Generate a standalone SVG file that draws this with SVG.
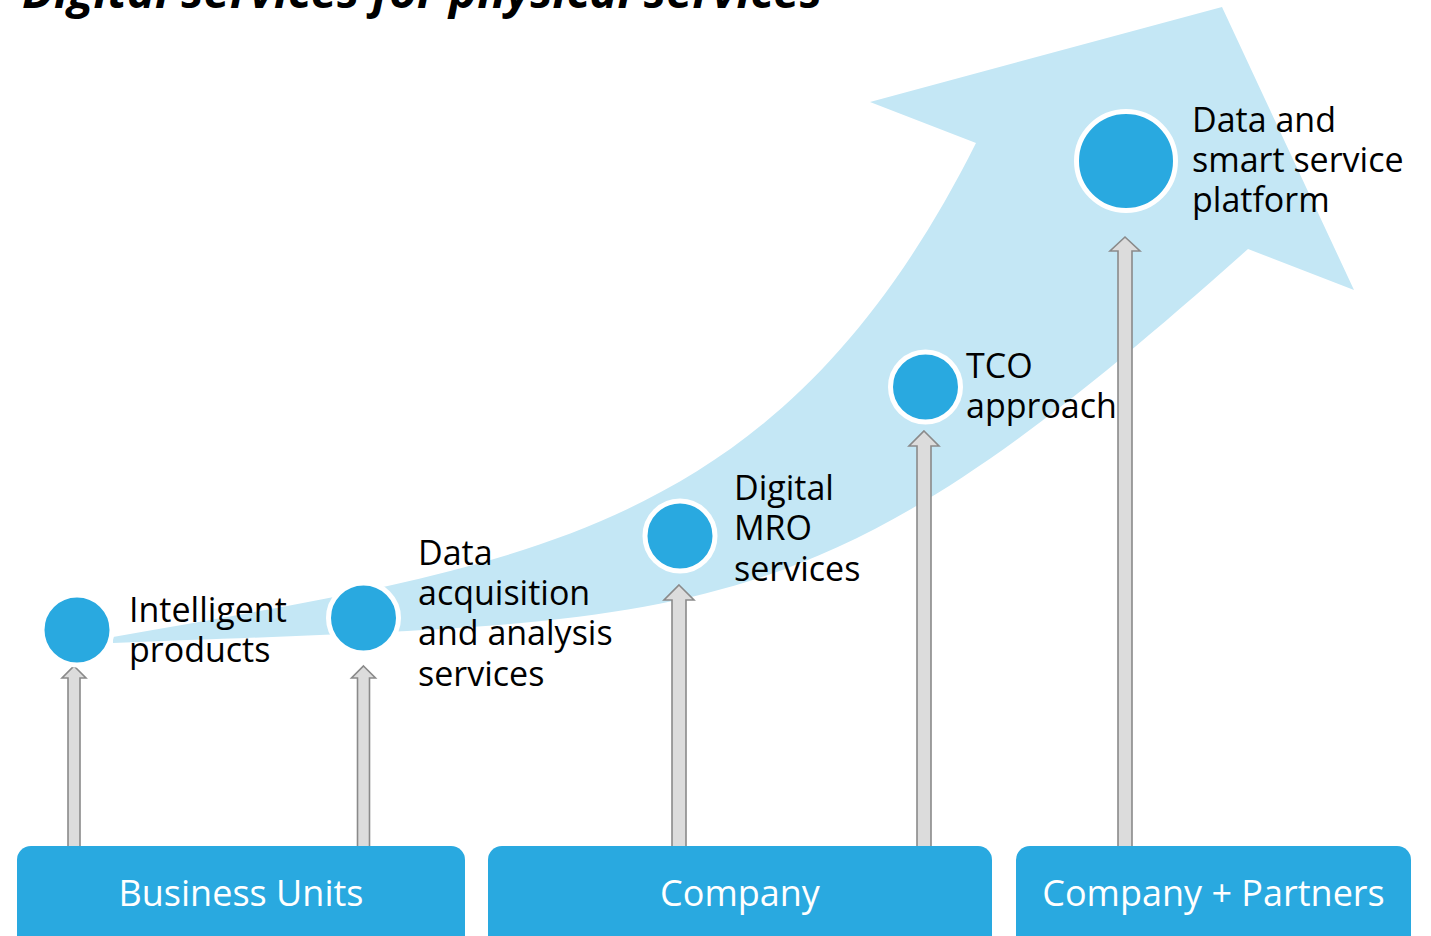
<svg xmlns="http://www.w3.org/2000/svg" width="1431" height="936" viewBox="0 0 1431 936">
  <style>
    .lbl { font-family: "Open Sans", "Noto Sans", "Liberation Sans", sans-serif; font-size: 34px; fill: #000; }
    .box { fill: #29A9E0; }
    .boxtxt { font-family: "Open Sans", "Noto Sans", "Liberation Sans", sans-serif; font-size: 36px; fill: #fff; text-anchor: middle; }
    .dot { fill: #29A9E0; stroke: #fff; stroke-width: 5; }
    .up { fill: #DCDCDC; stroke: #8A8A8A; stroke-width: 1.6; stroke-linejoin: miter; }
    .title { font-family: "Open Sans", "Liberation Sans", sans-serif; font-size: 46px; font-weight: bold; font-style: italic; fill: #000; }
  </style>
  <rect width="1431" height="936" fill="#fff"/>
  <text class="title" x="22" y="8" textLength="800" lengthAdjust="spacingAndGlyphs">Digital services for physical services</text>

  <g id="growth-arrow">
    <path d="M113,637 C513,565 775,543 976,143 L870,102 L1222,7 L1354,290 L1248,249 C810,640 713,619 113,643 Z" fill="#C4E7F5"/>
  </g>

  <g id="connectors">
    <path class="up" d="M74,666 L86,678 L80,678 L80,848 L68,848 L68,678 L62,678 Z"/>
    <path class="up" d="M363.5,666 L375.5,678 L369.5,678 L369.5,848 L357.5,848 L357.5,678 L351.5,678 Z"/>
    <path class="up" d="M679,585 L694,600 L686,600 L686,848 L672,848 L672,600 L664,600 Z"/>
    <path class="up" d="M924,431 L939,446 L931,446 L931,848 L917,848 L917,446 L909,446 Z"/>
    <path class="up" d="M1125,237 L1140,251 L1132,251 L1132,848 L1118,848 L1118,251 L1110,251 Z"/>
  </g>

  <g id="node-intelligent-products">
    <circle class="dot" cx="77" cy="630" r="35"/>
    <text class="lbl" x="129" y="622">Intelligent</text>
    <text class="lbl" x="129" y="662">products</text>
  </g>
  <g id="node-data-acquisition">
    <circle class="dot" cx="363.5" cy="618" r="35"/>
    <text class="lbl" x="418" y="565">Data</text>
    <text class="lbl" x="418" y="605">acquisition</text>
    <text class="lbl" x="418" y="645">and analysis</text>
    <text class="lbl" x="418" y="686">services</text>
  </g>
  <g id="node-digital-mro">
    <circle class="dot" cx="680" cy="536" r="35"/>
    <text class="lbl" x="734" y="500">Digital</text>
    <text class="lbl" x="734" y="540">MRO</text>
    <text class="lbl" x="734" y="581">services</text>
  </g>
  <g id="node-tco">
    <circle class="dot" cx="925.5" cy="387" r="35"/>
    <text class="lbl" x="966" y="378">TCO</text>
    <text class="lbl" x="966" y="418">approach</text>
  </g>
  <g id="node-platform">
    <circle class="dot" cx="1126" cy="161" r="49.5"/>
    <text class="lbl" x="1192" y="132">Data and</text>
    <text class="lbl" x="1192" y="172">smart service</text>
    <text class="lbl" x="1192" y="212">platform</text>
  </g>

  <g id="box-business-units">
    <rect class="box" x="17" y="846" width="448" height="110" rx="14"/>
    <text class="boxtxt" x="241" y="906">Business Units</text>
  </g>
  <g id="box-company">
    <rect class="box" x="488" y="846" width="504" height="110" rx="14"/>
    <text class="boxtxt" x="740" y="906">Company</text>
  </g>
  <g id="box-company-partners">
    <rect class="box" x="1016" y="846" width="395" height="110" rx="14"/>
    <text class="boxtxt" x="1213.5" y="906">Company + Partners</text>
  </g>
</svg>
